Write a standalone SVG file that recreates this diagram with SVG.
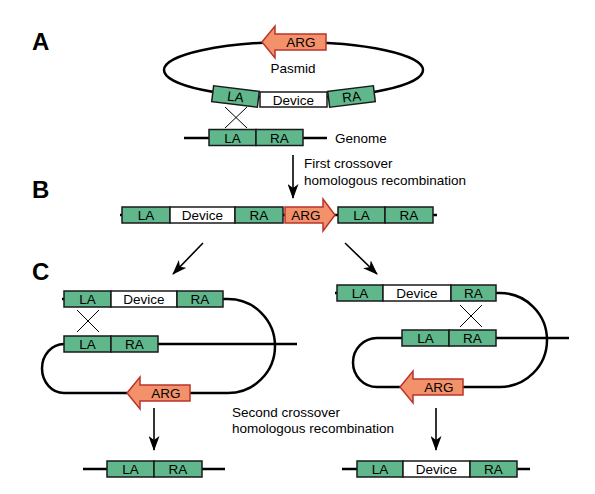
<svg xmlns="http://www.w3.org/2000/svg" width="595" height="494" viewBox="0 0 595 494">
<defs>
<style>
.bb{fill:none;stroke:#000;stroke-width:2.5}
.g{fill:#5fb78b;stroke:#1a1a1a;stroke-width:1.5}
.w{fill:#fff;stroke:#1a1a1a;stroke-width:1.5}
.arg{fill:#f3916a;stroke:#b8342c;stroke-width:1.5}
.t{font-family:"Liberation Sans",Arial,sans-serif;font-size:13.5px;fill:#000;text-anchor:middle}
.lbl{font-family:"Liberation Sans",Arial,sans-serif;font-size:13.5px;fill:#000}
.big{font-family:"Liberation Sans",Arial,sans-serif;font-size:24px;font-weight:bold;fill:#000}
.x{stroke:#000;stroke-width:1;fill:none}
.ar{stroke:#000;stroke-width:1.6;fill:none}
</style>
<marker id="ah" markerUnits="userSpaceOnUse" markerWidth="15" markerHeight="11" refX="14" refY="5.5" orient="auto">
<path d="M0,0 L15,5.5 L0,11 L4,5.5 z" fill="#000"/>
</marker>
</defs>

<text class="big" x="32" y="50">A</text>
<text class="big" x="32" y="198">B</text>
<text class="big" x="32" y="280">C</text>

<g id="plasmid">
<ellipse class="bb" cx="293.5" cy="70" rx="129.5" ry="28"/>
<path class="arg" d="M262,42 L275,26 L275,34 L326,34 L326,50 L275,50 L275,58 Z"/>
<text class="t" x="301" y="47">ARG</text>
<text class="lbl" x="293" y="73" text-anchor="middle">Pasmid</text>
<g transform="rotate(7 235.5 96.5)">
<rect class="g" x="212.5" y="88.5" width="46" height="16"/>
<text class="t" x="235.5" y="101.5">LA</text>
</g>
<rect class="w" x="260" y="92" width="67" height="15"/>
<text class="t" x="293.5" y="104.5">Device</text>
<g transform="rotate(-7 351.5 96.5)">
<rect class="g" x="328.5" y="88.5" width="46" height="16"/>
<text class="t" x="351.5" y="101.5">RA</text>
</g>
</g>

<g id="genome">
<line class="bb" x1="184" y1="138" x2="327" y2="138"/>
<rect class="g" x="209" y="129.5" width="47" height="16"/>
<rect class="g" x="256" y="129.5" width="47" height="16"/>
<text class="t" x="232.5" y="142.5">LA</text>
<text class="t" x="279.5" y="142.5">RA</text>
<text class="lbl" x="335" y="143">Genome</text>
</g>

<g id="crossA">
<line class="x" x1="225" y1="107" x2="247" y2="128"/>
<line class="x" x1="247" y1="107" x2="225" y2="128"/>
</g>

<g id="rowB">
<line class="bb" x1="120" y1="215" x2="437" y2="215"/>
<rect class="g" x="122" y="207" width="48" height="16"/>
<rect class="w" x="170" y="207" width="65" height="16"/>
<rect class="g" x="235" y="207" width="48" height="16"/>
<path class="arg" d="M285,207 L323,207 L323,199 L335,215 L323,231 L323,223 L285,223 Z"/>
<rect class="g" x="338" y="207" width="47" height="16"/>
<rect class="g" x="385" y="207" width="48" height="16"/>
<text class="t" x="146" y="220">LA</text>
<text class="t" x="202.5" y="220">Device</text>
<text class="t" x="259" y="220">RA</text>
<text class="t" x="306" y="220">ARG</text>
<text class="t" x="361.5" y="220">LA</text>
<text class="t" x="409" y="220">RA</text>
</g>

<g id="c1-intermediate">
<path class="bb" d="M62,299 L228,299 A47,47 0 0 1 228,393 L190,393"/>
<path class="bb" d="M127,393 L64,393 A22,24.5 0 0 1 64,344"/>
<line class="bb" x1="158" y1="344" x2="297" y2="344"/>
<rect class="g" x="64" y="291" width="47" height="16"/>
<rect class="w" x="111" y="291" width="66" height="16"/>
<rect class="g" x="177" y="291" width="46" height="16"/>
<text class="t" x="87.5" y="304">LA</text>
<text class="t" x="144" y="304">Device</text>
<text class="t" x="200" y="304">RA</text>
<rect class="g" x="64" y="336" width="47" height="16"/>
<rect class="g" x="111" y="336" width="47" height="16"/>
<text class="t" x="87.5" y="349">LA</text>
<text class="t" x="134.5" y="349">RA</text>
<line class="x" x1="77" y1="310" x2="99" y2="332"/>
<line class="x" x1="99" y1="310" x2="77" y2="332"/>
<path class="arg" d="M127,393 L140,377 L140,385 L190,385 L190,401 L140,401 L140,409 Z"/>
<text class="t" x="166" y="398">ARG</text>
</g>

<g id="c2-intermediate">
<path class="bb" d="M335,293 L500,293 A47,47 0 0 1 500,387 L463,387"/>
<path class="bb" d="M402,338 L377,338 A24,24.5 0 0 0 377,387 L400,387"/>
<line class="bb" x1="496" y1="338" x2="569" y2="338"/>
<rect class="g" x="337" y="285" width="46" height="16"/>
<rect class="w" x="383" y="285" width="68" height="16"/>
<rect class="g" x="451" y="285" width="45" height="16"/>
<text class="t" x="360" y="298">LA</text>
<text class="t" x="417" y="298">Device</text>
<text class="t" x="473.5" y="298">RA</text>
<rect class="g" x="402" y="330" width="47" height="16"/>
<rect class="g" x="449" y="330" width="47" height="16"/>
<text class="t" x="425.5" y="343">LA</text>
<text class="t" x="472.5" y="343">RA</text>
<line class="x" x1="460" y1="305" x2="482" y2="327"/>
<line class="x" x1="482" y1="305" x2="460" y2="327"/>
<path class="arg" d="M400,387 L413,371 L413,379 L463,379 L463,395 L413,395 L413,403 Z"/>
<text class="t" x="439" y="392">ARG</text>
</g>

<g id="c1-result">
<line class="bb" x1="83" y1="469" x2="225" y2="469"/>
<rect class="g" x="107" y="461" width="47" height="16"/>
<rect class="g" x="154" y="461" width="48" height="16"/>
<text class="t" x="130.5" y="474">LA</text>
<text class="t" x="178" y="474">RA</text>
</g>

<g id="c2-result">
<line class="bb" x1="342" y1="469" x2="530" y2="469"/>
<rect class="g" x="357" y="461" width="46" height="16"/>
<rect class="w" x="403" y="461" width="67" height="16"/>
<rect class="g" x="470" y="461" width="47" height="16"/>
<text class="t" x="380" y="474">LA</text>
<text class="t" x="436.5" y="474">Device</text>
<text class="t" x="493.5" y="474">RA</text>
</g>

<g id="connectors">
<line class="ar" x1="293" y1="155" x2="293" y2="198" marker-end="url(#ah)"/>
<line class="ar" x1="203" y1="243" x2="173" y2="274" marker-end="url(#ah)"/>
<line class="ar" x1="345" y1="243" x2="377" y2="274" marker-end="url(#ah)"/>
<line class="ar" x1="154" y1="408" x2="154" y2="450" marker-end="url(#ah)"/>
<line class="ar" x1="436" y1="408" x2="436" y2="450" marker-end="url(#ah)"/>
</g>

<g id="labels">
<text class="lbl" x="304" y="168">First crossover</text>
<text class="lbl" x="304" y="185">homologous recombination</text>
<text class="lbl" x="232" y="417">Second crossover</text>
<text class="lbl" x="232" y="433">homologous recombination</text>
</g>
</svg>
